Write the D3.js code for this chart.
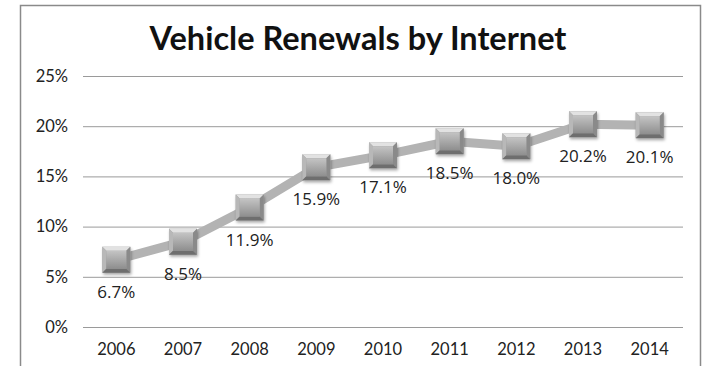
<!DOCTYPE html>
<html>
<head>
<meta charset="utf-8">
<script src="https://cdn.jsdelivr.net/npm/d3@7"></script>
<style>
  html, body { margin: 0; padding: 0; background: #fff; }
  svg { display: block; }
</style>
</head>
<body>
<svg id="chart" width="705" height="366"></svg>
<script>
// Share of vehicle registration renewals completed online, by year
const years = ["2006", "2007", "2008", "2009", "2010", "2011", "2012", "2013", "2014"];
const shares = [6.7, 8.5, 11.9, 15.9, 17.1, 18.5, 18.0, 20.2, 20.1];
const yTicks = [0, 5, 10, 15, 20, 25];
const title = "Vehicle Renewals by Internet";

const svg = d3.select("#chart");
const W = 705, H = 366;
const font = "Lato, 'Open Sans', sans-serif";
const labelFont = "'Open Sans', Lato, sans-serif";

// chart frame (open at the bottom)
svg.append("path")
  .attr("d", `M20.5,${H} V5.5 H700.5 V${H}`)
  .attr("fill", "none")
  .attr("stroke", "#8a8a8a")
  .attr("stroke-width", 1.5);

const x = d3.scaleBand().domain(years).range([83, 683]);
const y = d3.scaleLinear().domain([0, 25]).range([327, 76]);

// gridlines + y labels
const yAxis = d3.axisLeft(y)
  .tickValues(yTicks)
  .tickSize(-(683 - 83))
  .tickPadding(15)
  .tickFormat(d => d + "%");
const gy = svg.append("g").attr("transform", "translate(83,0)").call(yAxis);
gy.select(".domain").remove();
gy.selectAll(".tick line").attr("stroke", "#9a9a9a").attr("stroke-width", 1);
gy.selectAll(".tick text")
  .attr("fill", "#222")
  .style("font-family", font)
  .style("font-size", "16.5px");

// x labels
const xAxis = d3.axisBottom(x).tickSize(0).tickPadding(16);
const gx = svg.append("g").attr("transform", "translate(0,327)").call(xAxis);
gx.select(".domain").remove();
gx.selectAll(".tick text")
  .attr("fill", "#222")
  .style("font-family", font)
  .style("font-size", "16.5px");

// title
svg.append("text")
  .attr("x", 358).attr("y", 50)
  .attr("text-anchor", "middle")
  .style("font-family", font)
  .style("font-weight", "bold")
  .style("font-size", "32.5px")
  .attr("fill", "#111")
  .text(title);

const data = years.map((yr, i) => ({ yr, v: shares[i] }));
const cx = d => x(d.yr) + x.bandwidth() / 2;

// connecting line
svg.append("path")
  .datum(data)
  .attr("fill", "none")
  .attr("stroke", "#b3b3b3")
  .attr("stroke-width", 9)
  .attr("stroke-linejoin", "round")
  .attr("d", d3.line().x(cx).y(d => y(d.v)));

// marker styling
const defs = svg.append("defs");
const grad = defs.append("linearGradient").attr("id", "face").attr("x1", 0).attr("y1", 0).attr("x2", 0).attr("y2", 1);
grad.append("stop").attr("offset", "0%").attr("stop-color", "#c4c4c4");
grad.append("stop").attr("offset", "100%").attr("stop-color", "#8e8e8e");
const shadow = defs.append("filter").attr("id", "shadow").attr("x", "-30%").attr("y", "-30%").attr("width", "160%").attr("height", "160%");
shadow.append("feDropShadow").attr("dx", 1).attr("dy", 2).attr("stdDeviation", 1.5).attr("flood-color", "#000").attr("flood-opacity", 0.35);

const mw = 28, mh = 26, b = 4;
const markers = svg.append("g").selectAll("g").data(data).join("g")
  .attr("transform", d => `translate(${cx(d)},${y(d.v)})`);

markers.append("rect")
  .attr("x", -mw / 2).attr("y", -mh / 2).attr("width", mw).attr("height", mh)
  .attr("fill", "#9d9d9d").attr("filter", "url(#shadow)");
// bevel edges
const hw = mw / 2, hh = mh / 2;
markers.append("path") // top
  .attr("d", `M${-hw},${-hh} L${hw},${-hh} L${hw - b},${-hh + b} L${-hw + b},${-hh + b} Z`)
  .attr("fill", "#e2e2e2");
markers.append("path") // left
  .attr("d", `M${-hw},${-hh} L${-hw + b},${-hh + b} L${-hw + b},${hh - b} L${-hw},${hh} Z`)
  .attr("fill", "#b8b8b8");
markers.append("path") // right
  .attr("d", `M${hw},${-hh} L${hw - b},${-hh + b} L${hw - b},${hh - b} L${hw},${hh} Z`)
  .attr("fill", "#8a8a8a");
markers.append("path") // bottom
  .attr("d", `M${-hw},${hh} L${hw},${hh} L${hw - b},${hh - b} L${-hw + b},${hh - b} Z`)
  .attr("fill", "#6e6e6e");
markers.append("rect")
  .attr("x", -hw + b).attr("y", -hh + b).attr("width", mw - 2 * b).attr("height", mh - 2 * b)
  .attr("fill", "url(#face)");

// value labels below each marker
svg.append("g").selectAll("text").data(data).join("text")
  .attr("x", cx)
  .attr("y", d => y(d.v) + 38)
  .attr("text-anchor", "middle")
  .style("font-family", labelFont)
  .style("font-size", "17px")
  .attr("fill", "#222")
  .text(d => d.v.toFixed(1) + "%");
</script>
</body>
</html>
